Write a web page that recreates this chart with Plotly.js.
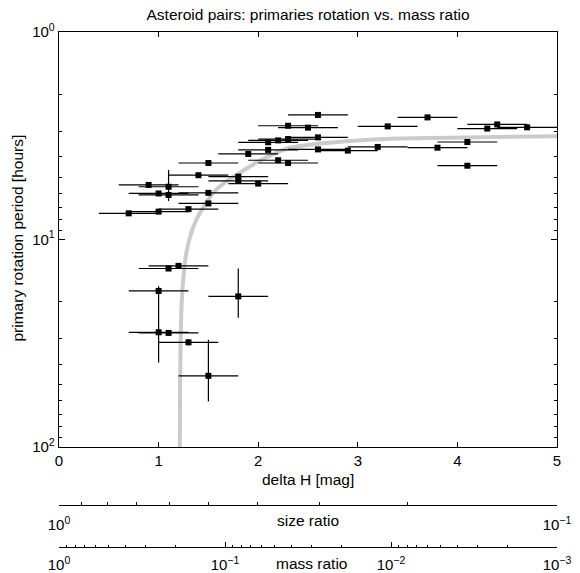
<!DOCTYPE html>
<html>
<head>
<meta charset="utf-8">
<script src="https://cdn.plot.ly/plotly-3.0.1.min.js"></script>
<style>
  html, body { margin: 0; padding: 0; background: #ffffff; }
  #chart { width: 580px; height: 573px; }
</style>
</head>
<body>
<div id="chart"></div>
<script>
// Magnitude difference between secondary and primary of each pair [mag]
const deltaH = [
  0.7, 0.9, 1.0, 1.0, 1.1, 1.1, 1.3, 1.4, 1.5, 1.5, 1.5, 1.8, 1.8, 1.9, 2.0,
  2.1, 2.1, 2.2, 2.2, 2.3, 2.3, 2.3, 2.5, 2.6, 2.6, 2.6, 2.9, 3.2, 3.3, 3.7,
  3.8, 4.1, 4.1, 4.3, 4.4, 4.7,
  1.1, 1.2, 1.0, 1.8, 1.0, 1.1, 1.3, 1.5
];
// Primary rotation period [hours]
const period = [
  7.48, 5.46, 6.0, 7.34, 5.57, 6.1, 7.14, 4.9, 4.28, 5.96, 6.7, 4.98, 5.22, 3.87, 5.38,
  3.40, 3.70, 3.33, 4.15, 2.83, 3.28, 4.28, 2.89, 2.51, 3.22, 3.68, 3.73, 3.58, 2.85, 2.58,
  3.61, 3.39, 4.41, 2.92, 2.79, 2.88,
  13.8, 13.4, 17.7, 18.8, 28.0, 28.2, 31.3, 45.4
];
// Period uncertainty [hours]
const periodErr = [
  0, 0, 0, 0, 0.95, 0, 0, 0, 0, 0, 0, 0, 0, 0, 0,
  0, 0, 0, 0, 0, 0, 0, 0, 0, 0, 0, 0, 0, 0, 0,
  0, 0, 0, 0, 0, 0,
  0, 0, 0, 5.0, 11.2, 0, 1.1, 15.0
];
// Uncertainty of delta H, the same for every pair [mag]
const deltaHErr = 0.3;

// Model curve: primary period vs. delta H
const curveDH = [1.213, 1.215, 1.22, 1.232, 1.25, 1.28, 1.315, 1.37, 1.449, 1.55,
                 1.65, 1.885, 2.02, 2.29, 2.62, 3.0, 3.32, 4.09, 5.0];
const curveP  = [100, 60, 34, 20, 15, 11.5, 9.75, 8.2, 6.98, 5.95,
                 5.38, 4.55, 4.15, 3.65, 3.45, 3.33, 3.27, 3.22, 3.18];

// Tick values and labels
const xTicks = [0, 1, 2, 3, 4, 5];
const yTicks = [1, 10, 100];
const yTickText = ['10<sup>0</sup>', '10<sup>1</sup>', '10<sup>2</sup>'];
const yMinor = [2, 3, 4, 5, 6, 7, 8, 9, 20, 30, 40, 50, 60, 70, 80, 90];
const sizeTicks = [1, 0.1];
const sizeTickText = ['10<sup>0</sup>', '10<sup>\u22121</sup>'];
const sizeMinor = [0.9, 0.8, 0.7, 0.6, 0.5, 0.4, 0.3, 0.2];
const massTicks = [1, 0.1, 0.01, 0.001];
const massTickText = ['10<sup>0</sup>', '10<sup>\u22121</sup>', '10<sup>\u22122</sup>', '10<sup>\u22123</sup>'];
const massMinor = [0.9, 0.8, 0.7, 0.6, 0.5, 0.4, 0.3, 0.2,
                   0.09, 0.08, 0.07, 0.06, 0.05, 0.04, 0.03, 0.02,
                   0.009, 0.008, 0.007, 0.006, 0.005, 0.004, 0.003, 0.002];

const FONT = 'Liberation Sans, Arial, Helvetica, sans-serif';

const traces = [
  {
    type: 'scatter', mode: 'lines',
    x: curveDH, y: curveP,
    line: { color: '#cbcbcb', width: 4, shape: 'spline', smoothing: 0.6 },
    hoverinfo: 'skip', showlegend: false
  },
  {
    type: 'scatter', mode: 'markers',
    x: deltaH, y: period,
    marker: { symbol: 'square', size: 6, color: '#000000' },
    error_x: { type: 'constant', value: deltaHErr, color: '#000000', thickness: 1.2, width: 0 },
    error_y: { type: 'data', array: periodErr, color: '#000000', thickness: 1.2, width: 0 },
    showlegend: false
  },
  // empty traces that bring up the size ratio and mass ratio scales
  { type: 'scatter', x: [], y: [], xaxis: 'x2', yaxis: 'y', showlegend: false, hoverinfo: 'skip' },
  { type: 'scatter', x: [], y: [], xaxis: 'x3', yaxis: 'y', showlegend: false, hoverinfo: 'skip' }
];

const yBottom = 0.1942;

const layout = {
  width: 580, height: 573,
  margin: { l: 59, r: 23, t: 32, b: 26 },
  paper_bgcolor: '#ffffff', plot_bgcolor: '#ffffff',
  font: { family: FONT, size: 15, color: '#000000' },
  showlegend: false,
  title: {
    text: 'Asteroid pairs: primaries rotation vs. mass ratio',
    font: { family: FONT, size: 15.5, color: '#000000' },
    x: 0.5, xref: 'paper', xanchor: 'center',
    y: 1 - 14.5 / 573, yref: 'container', yanchor: 'middle'
  },
  xaxis: {
    range: [0, 5], anchor: 'y',
    tickmode: 'array', tickvals: xTicks,
    ticks: 'inside', ticklen: 5, tickwidth: 1, tickcolor: '#000',
    showline: true, linecolor: '#000', linewidth: 1.3, mirror: 'ticks',
    showgrid: false, zeroline: false,
    tickfont: { family: FONT, size: 15 }
  },
  yaxis: {
    type: 'log', range: [2, 0], domain: [yBottom, 1],
    tickmode: 'array', tickvals: yTicks, ticktext: yTickText,
    ticks: 'inside', ticklen: 6, tickwidth: 1, tickcolor: '#000',
    minor: { tickmode: 'array', tickvals: yMinor, ticks: 'inside', ticklen: 3, tickcolor: '#000', showgrid: false },
    showline: true, linecolor: '#000', linewidth: 1.3, mirror: 'ticks',
    showgrid: false, zeroline: false,
    tickfont: { family: FONT, size: 15 }
  },
  xaxis2: {
    type: 'log', range: [0, -1],
    overlaying: 'x', anchor: 'free', position: 0.0816, side: 'bottom',
    tickmode: 'array', tickvals: sizeTicks, ticktext: sizeTickText,
    ticks: 'inside', ticklen: 5, tickwidth: 1, tickcolor: '#000',
    minor: { tickmode: 'array', tickvals: sizeMinor, ticks: 'inside', ticklen: 2.5, tickcolor: '#000', showgrid: false },
    ticklabelstandoff: 6,
    showline: true, linecolor: '#000', linewidth: 1.3,
    showgrid: false, zeroline: false,
    tickfont: { family: FONT, size: 15 }
  },
  xaxis3: {
    type: 'log', range: [0, -3],
    overlaying: 'x', anchor: 'free', position: 0, side: 'bottom',
    tickmode: 'array', tickvals: massTicks, ticktext: massTickText,
    ticks: 'inside', ticklen: 5, tickwidth: 1, tickcolor: '#000',
    minor: { tickmode: 'array', tickvals: massMinor, ticks: 'inside', ticklen: 2.5, tickcolor: '#000', showgrid: false },
    ticklabelstandoff: 4,
    showline: true, linecolor: '#000', linewidth: 1.3,
    showgrid: false, zeroline: false,
    tickfont: { family: FONT, size: 15 }
  },
  annotations: [
    { text: 'delta H [mag]', xref: 'paper', yref: 'paper', x: 0.5, y: 0.132,
      xanchor: 'center', yanchor: 'middle', showarrow: false, font: { family: FONT, size: 15.5 } },
    { text: 'primary rotation period [hours]', xref: 'paper', yref: 'paper', x: -0.0823, y: 0.599,
      textangle: -90, xanchor: 'center', yanchor: 'middle', showarrow: false, font: { family: FONT, size: 15.5 } },
    { text: 'size ratio', xref: 'paper', yref: 'paper', x: 0.499, y: 0.0505,
      xanchor: 'center', yanchor: 'middle', showarrow: false, font: { family: FONT, size: 15.5 } },
    { text: 'mass ratio', xref: 'paper', yref: 'paper', x: 0.508, y: -0.033,
      xanchor: 'center', yanchor: 'middle', showarrow: false, font: { family: FONT, size: 15.5 } }
  ]
};

Plotly.newPlot('chart', traces, layout, { displayModeBar: false, staticPlot: true });
</script>
</body>
</html>
